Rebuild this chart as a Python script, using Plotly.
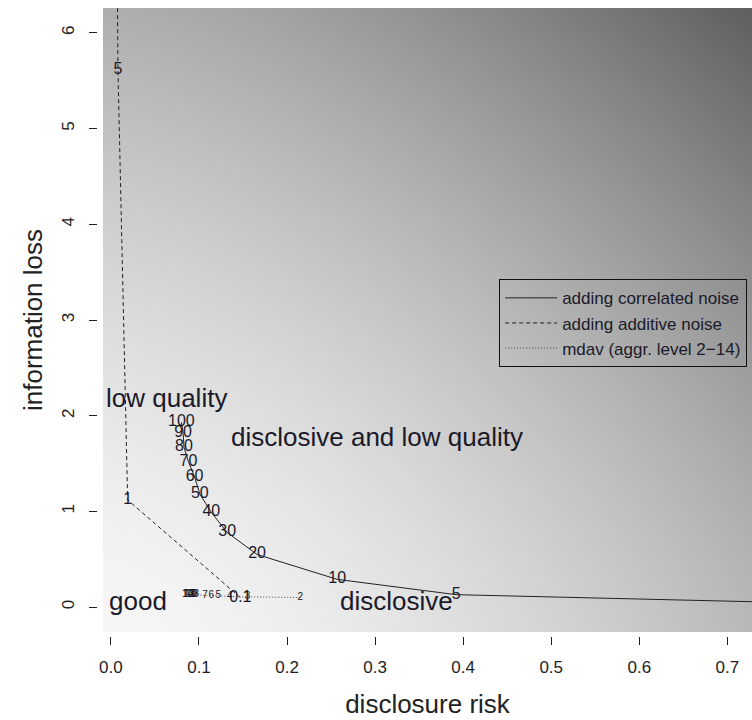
import numpy as np
import plotly.graph_objects as go

# ---- data ----
corr_levels = ["100", "90", "80", "70", "60", "50", "40", "30", "20", "10", "5", "1"]
corr_risk = [0.080, 0.082, 0.083, 0.088, 0.095, 0.101, 0.114, 0.132, 0.166, 0.257, 0.392, 0.85]
corr_loss = [1.93, 1.82, 1.67, 1.52, 1.36, 1.18, 0.99, 0.78, 0.55, 0.29, 0.13, 0.03]

add_levels = ["10", "5", "1", "0.1"]
add_risk = [0.004, 0.008, 0.019, 0.147]
add_loss = [10.5, 5.61, 1.12, 0.10]

mdav_levels = ["2", "3", "4", "5", "6", "7", "8", "9", "10", "11", "12", "13", "14"]
mdav_risk = [0.215, 0.155, 0.135, 0.122, 0.114, 0.107, 0.097, 0.094, 0.092, 0.090, 0.089, 0.088, 0.087]
mdav_loss = [0.10, 0.11, 0.11, 0.12, 0.12, 0.12, 0.13, 0.13, 0.13, 0.13, 0.13, 0.13, 0.13]

regions = ["low quality", "disclosive and low quality", "good", "disclosive"]
region_x = [-0.008, 0.302, -0.005, 0.324]
region_y = [2.19, 1.78, 0.06, 0.06]
region_anchor = ["left", "center", "left", "center"]

x_ticks = [0.0, 0.1, 0.2, 0.3, 0.4, 0.5, 0.6, 0.7]
x_tick_text = ["0.0", "0.1", "0.2", "0.3", "0.4", "0.5", "0.6", "0.7"]
y_ticks = [0, 1, 2, 3, 4, 5, 6]

x_range = [-0.009, 0.728]
y_range = [-0.26, 6.26]

FONT = "Liberation Sans, Arial, sans-serif"
TXT = "#1a1a2a"

fig = go.Figure()

# background gradient (decoration only)
gx = np.linspace(x_range[0], x_range[1], 150)
gy = np.linspace(y_range[0], y_range[1], 150)
XN, YN = np.meshgrid((gx - x_range[0]) / (x_range[1] - x_range[0]),
                     (gy - y_range[0]) / (y_range[1] - y_range[0]))
Z = 246 - 62 * XN ** 1.6 - 72 * YN ** 1.45 - 18 * XN * YN
fig.add_trace(go.Heatmap(x=gx, y=gy, z=Z, zmin=0, zmax=255, zsmooth="best",
                         colorscale=[[0, "rgb(0,0,0)"], [1, "rgb(255,255,255)"]],
                         showscale=False, hoverinfo="skip", showlegend=False))

fig.add_trace(go.Scatter(x=corr_risk, y=corr_loss, mode="lines+text", text=corr_levels,
                         textposition="middle center",
                         textfont=dict(family=FONT, size=16, color=TXT),
                         line=dict(color="#222", width=1),
                         name="adding correlated noise"))
fig.add_trace(go.Scatter(x=add_risk, y=add_loss, mode="lines+text", text=add_levels,
                         textposition="middle center",
                         textfont=dict(family=FONT, size=16, color=TXT),
                         line=dict(color="#222", width=1, dash="4px,3px"),
                         name="adding additive noise"))
fig.add_trace(go.Scatter(x=mdav_risk, y=mdav_loss, mode="lines+text", text=mdav_levels,
                         textposition="middle center",
                         textfont=dict(family=FONT, size=10, color=TXT),
                         line=dict(color="#444", width=1, dash="1px,2px"),
                         name="mdav (aggr. level 2\u221214)"))

for t, x, y, a in zip(regions, region_x, region_y, region_anchor):
    fig.add_annotation(x=x, y=y, text=t, showarrow=False, xanchor=a, yanchor="middle",
                       font=dict(family=FONT, size=26, color=TXT))

fig.update_layout(
    width=752, height=720,
    margin=dict(l=97, r=0, t=8, b=84),
    paper_bgcolor="white", plot_bgcolor="white",
    font=dict(family=FONT, color="#222"),
    legend=dict(x=0.614, y=0.568, xanchor="left", yanchor="top",
                bgcolor="rgba(0,0,0,0)", bordercolor="#111", borderwidth=1,
                itemwidth=52, tracegroupgap=0,
                font=dict(family=FONT, size=17, color=TXT)),
    xaxis=dict(range=x_range, tickvals=x_ticks, ticktext=x_tick_text,
               domain=[6 / 655, 1], anchor="free", position=0,
               showgrid=False, zeroline=False, showline=False,
               ticks="outside", ticklen=8, tickcolor="#222", ticklabelstandoff=8,
               tickfont=dict(family=FONT, size=17, color="#222"),
               title=dict(text="disclosure risk", font=dict(family=FONT, size=26, color="#222"),
                          standoff=18)),
    yaxis=dict(range=y_range, tickvals=y_ticks,
               domain=[4 / 628, 1], anchor="free", position=0,
               showgrid=False, zeroline=False, showline=False,
               ticks="outside", ticklen=8, tickcolor="#222", tickangle=-90,
               ticklabelstandoff=8,
               tickfont=dict(family=FONT, size=17, color="#222"),
               title=dict(text="information loss", font=dict(family=FONT, size=26, color="#222"),
                          standoff=8)),
)

fig.write_html("out.html")
